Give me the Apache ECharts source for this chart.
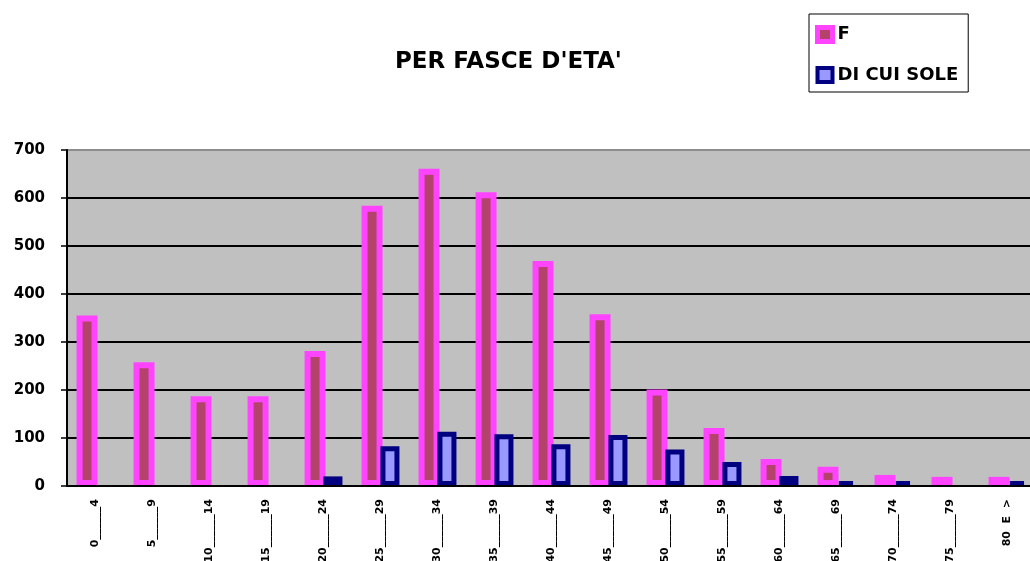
<!DOCTYPE html>
<html lang="it">

<head>
    <meta charset="UTF-8">
    <title>PER FASCE D'ETA'</title>
    <style>
        * {
            padding: 0;
            margin: 0;
            box-sizing: border-box;
        }

        html,
        body {
            width: 100%;
            height: 100%;
            overflow: hidden;
            background: #fff;
        }

        #box {
            width: 1030px;
            height: 561px;
        }
    </style>
</head>

<body>
    <div id="box"></div>
</body>
<script src="https://cdn.jsdelivr.net/npm/echarts@6/dist/echarts.min.js"></script>
<script>
    // fasce d'eta (etichette come nel grafico)
    var ageGroups = ['0______4', '5______9', '10______14', '15______19', '20______24', '25______29',
        '30______34', '35______39', '40______44', '45______49', '50______54', '55______59',
        '60______64', '65______69', '70______74', '75______79', '80  E  >'];
    var femaleCounts = [355, 258, 187, 187, 281, 584, 661, 612, 469, 358, 201, 121, 56, 40, 23, 19, 19];
    var aloneCounts = [0, 0, 0, 0, 20, 83, 113, 108, 87, 106, 76, 50, 21, 10, 10, 0, 10];
    var yTicks = [0, 100, 200, 300, 400, 500, 600, 700];

    var font = 'DejaVu Sans';

    var box = echarts.init(document.getElementById('box'));

    // gridline a 700 grigia, le altre nere
    var splitColors = yTicks.map(function (v) {
        return v === yTicks[yTicks.length - 1] ? '#8c8c8c' : '#000';
    });

    var option = {
        backgroundColor: '#fff',
        animation: false,
        title: {
            text: "PER FASCE D'ETA'",
            left: 395,
            top: 51,
            padding: 0,
            textStyle: {
                fontFamily: font,
                fontWeight: 'bold',
                fontSize: 23,
                color: '#000'
            }
        },
        legend: {
            orient: 'vertical',
            left: 809,
            top: 14,
            padding: [11, 10, 8, 6],
            itemGap: 22,
            itemWidth: 15,
            itemHeight: 14,
            icon: 'rect',
            borderColor: '#000',
            borderWidth: 1,
            textStyle: {
                fontFamily: font,
                fontWeight: 'bold',
                fontSize: 18,
                color: '#000'
            },
            data: [
                { name: 'F', itemStyle: { color: '#b3436b', borderColor: '#ff44ff', borderWidth: 5 } },
                { name: 'DI CUI SOLE', itemStyle: { color: '#9999ff', borderColor: '#000080', borderWidth: 4 } }
            ]
        },
        grid: {
            left: 67,
            right: -6,
            top: 150,
            bottom: 75,
            outerBoundsMode: 'none',
            show: true,
            backgroundColor: '#c0c0c0',
            borderWidth: 0
        },
        xAxis: {
            type: 'category',
            data: ageGroups,
            z: 5,
            axisLine: { lineStyle: { color: '#000', width: 2 } },
            axisTick: { length: 5, lineStyle: { color: '#000', width: 1.5 } },
            axisLabel: {
                rotate: 90,
                margin: 13,
                interval: 0,
                fontFamily: font,
                fontWeight: 'bold',
                fontSize: 11,
                color: '#000'
            },
            splitLine: { show: false }
        },
        yAxis: {
            type: 'value',
            min: 0,
            max: 700,
            interval: 100,
            axisLine: { show: true, lineStyle: { color: '#000', width: 2 } },
            axisTick: { show: true, length: 6, lineStyle: { color: '#000', width: 1.5 } },
            axisLabel: {
                margin: 22,
                fontFamily: font,
                fontWeight: 'bold',
                fontSize: 15,
                color: '#000'
            },
            splitLine: { lineStyle: { color: splitColors, width: 2 } }
        },
        series: [
            {
                name: 'F',
                type: 'bar',
                barWidth: 21,
                barGap: '-10%',
                itemStyle: {
                    color: '#b3436b',
                    borderColor: '#ff44ff',
                    borderWidth: 6
                },
                data: femaleCounts
            },
            {
                name: 'DI CUI SOLE',
                type: 'bar',
                barWidth: 19,
                itemStyle: {
                    color: '#9999ff',
                    borderColor: '#000080',
                    borderWidth: 5
                },
                data: aloneCounts.map(function (v) { return v === 0 ? '-' : v; })
            }
        ]
    };
    box.setOption(option);
</script>

</html>
